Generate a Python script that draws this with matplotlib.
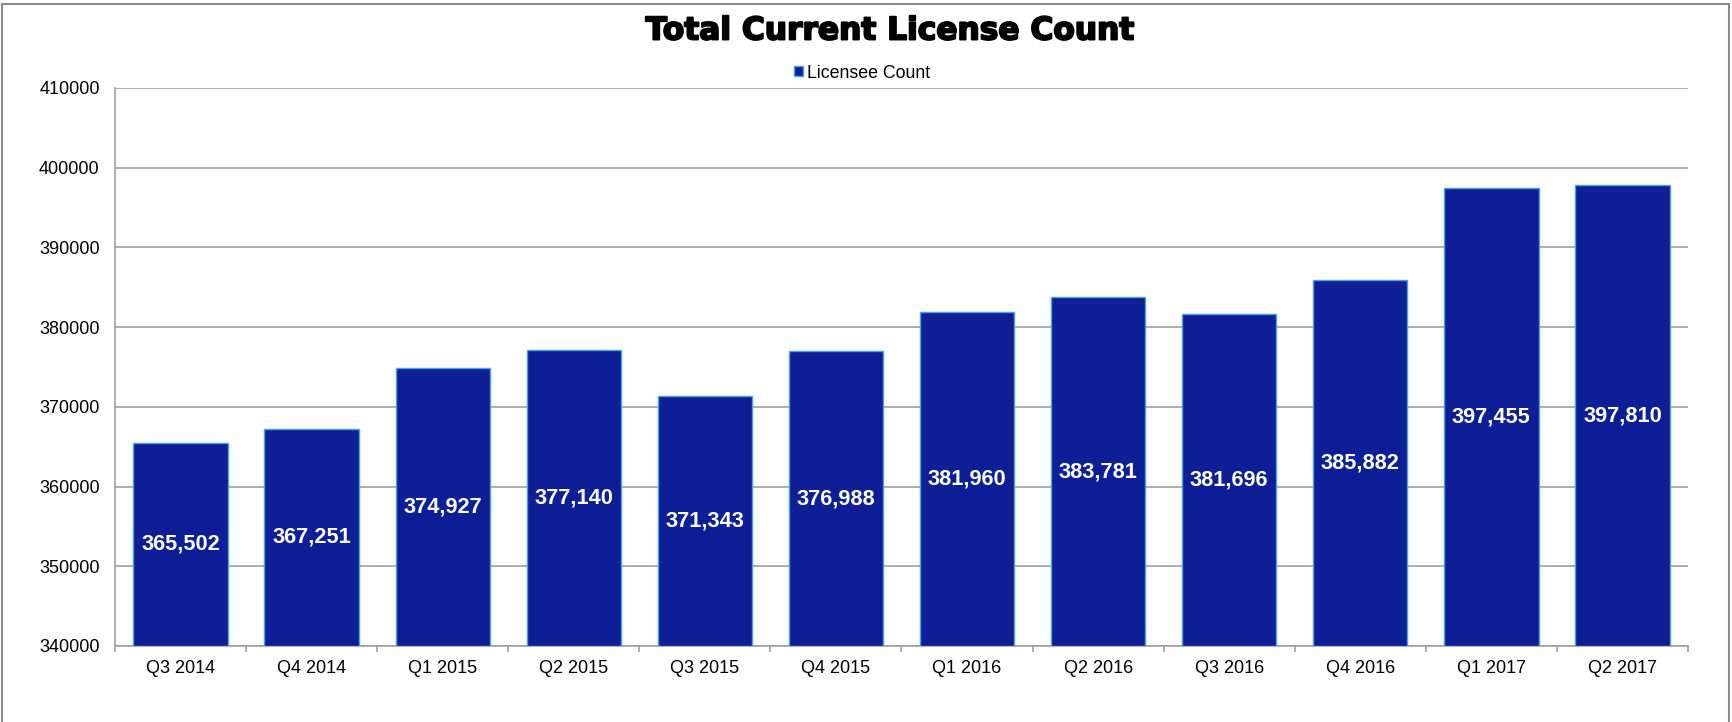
import numpy as np
import matplotlib
matplotlib.use("Agg")
import matplotlib.pyplot as plt
import matplotlib.patheffects as pe
from matplotlib.patches import Rectangle

# data
quarters = ["Q3 2014", "Q4 2014", "Q1 2015", "Q2 2015", "Q3 2015", "Q4 2015",
            "Q1 2016", "Q2 2016", "Q3 2016", "Q4 2016", "Q1 2017", "Q2 2017"]
licensee_count = [365502, 367251, 374927, 377140, 371343, 376988,
                  381960, 383781, 381696, 385882, 397455, 397810]
y_min, y_max, y_step = 340000, 410000, 10000

plt.rcParams['font.family'] = ['Liberation Sans', 'DejaVu Sans']

fig = plt.figure(figsize=(17.32, 7.22), dpi=100)
ax = fig.add_axes([115/1732, 1 - 646/722, (1688 - 115)/1732, (646 - 88)/722])

x = np.arange(len(quarters))
heights = [v - y_min for v in licensee_count]
bars = ax.bar(x, heights, bottom=y_min, width=0.72, color="#0E1E96",
              edgecolor="#4AA3DF", linewidth=1, label="Licensee Count", zorder=3)
ax.bar_label(bars, labels=[f"{v:,}" for v in licensee_count], label_type="center",
             color="white", fontsize=15.7, fontweight="bold", zorder=4)

ax.set_xlim(-0.5, len(quarters) - 0.5)
ax.set_ylim(y_min, y_max)
ax.set_yticks(np.arange(y_min, y_max + 1, y_step))
ax.set_xticks(x)
ax.set_xticklabels(quarters)
ax.set_xticks(np.arange(-0.5, len(quarters)), minor=True)

ax.grid(axis="y", color="#A0A0A0", linewidth=1.2, zorder=0)
ax.tick_params(axis="y", length=0, pad=11, labelsize=13, labelcolor="black")
ax.tick_params(axis="x", which="major", length=0, pad=10, labelsize=13)
ax.tick_params(axis="x", which="minor", length=4, width=1.2, color="#A0A0A0", direction="out")

for side in ["top", "right"]:
    ax.spines[side].set_visible(False)
for side in ["left", "bottom"]:
    ax.spines[side].set_color("#A0A0A0")
    ax.spines[side].set_linewidth(1.2)

fig.text(890/1732, 1 - 31/722, "Total Current License Count", ha="center", va="center",
         fontsize=22.5, fontweight="bold", family="DejaVu Sans",
         path_effects=[pe.withStroke(linewidth=1.4, foreground="black")])

fig.legend(loc="center", bbox_to_anchor=(862/1732, 1 - 73/722), frameon=False,
           fontsize=12.8, handlelength=0.5, handleheight=0.5, handletextpad=0.2)

# chart border
fig.patches.append(Rectangle((2/1732, -0.05), 1727/1732, 1.05 - 4/722, transform=fig.transFigure,
                             fill=False, edgecolor="#8C8C8C", linewidth=1.5))

fig.savefig("out.png", dpi=100)
